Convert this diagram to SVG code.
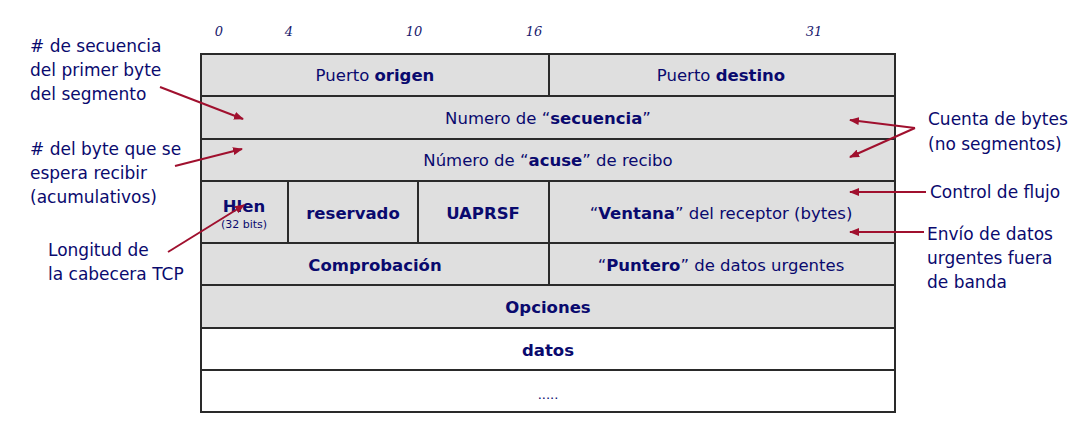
<svg xmlns="http://www.w3.org/2000/svg" width="1090" height="433" viewBox="0 0 1090 433">
<style>
.t{font-family:"DejaVu Sans",Verdana,sans-serif;font-size:16.5px;fill:#0a0a6e;text-anchor:middle}
.b{font-weight:bold}
.n{font-family:"DejaVu Sans",Verdana,sans-serif;font-size:17px;fill:#0a0a6e}
.bit{font-family:"DejaVu Serif",serif;font-style:italic;font-size:13px;fill:#1a1a6e;text-anchor:middle}
.g{fill:#dfdfdf;stroke:#2a2a2a;stroke-width:2}
.w{fill:#ffffff;stroke:#2a2a2a;stroke-width:2}
.a{stroke:#a0102e;stroke-width:2;fill:none}
</style>
<defs>
<marker id="ah" markerWidth="10" markerHeight="8" refX="9" refY="4" orient="auto" markerUnits="userSpaceOnUse">
<path d="M0,0 L10,4 L0,8 z" fill="#a0102e"/>
</marker>
</defs>
<g id="bits">
<text class="bit" x="219" y="36">0</text>
<text class="bit" x="289" y="36">4</text>
<text class="bit" x="414" y="36">10</text>
<text class="bit" x="534" y="36">16</text>
<text class="bit" x="814" y="36">31</text>
</g>
<g id="row-ports">
<rect class="g" x="201" y="54" width="348" height="42"/>
<rect class="g" x="549" y="54" width="346" height="42"/>
<text class="t" x="375" y="81">Puerto <tspan class="b">origen</tspan></text>
<text class="t" x="721" y="81">Puerto <tspan class="b">destino</tspan></text>
</g>
<g id="row-seq">
<rect class="g" x="201" y="96" width="694" height="43"/>
<text class="t" x="548" y="124">Numero de “<tspan class="b">secuencia</tspan>”</text>
</g>
<g id="row-ack">
<rect class="g" x="201" y="139" width="694" height="42"/>
<text class="t" x="548" y="166">Número de “<tspan class="b">acuse</tspan>” de recibo</text>
</g>
<g id="row-flags">
<rect class="g" x="201" y="181" width="87" height="62"/>
<rect class="g" x="288" y="181" width="130" height="62"/>
<rect class="g" x="418" y="181" width="131" height="62"/>
<rect class="g" x="549" y="181" width="346" height="62"/>
<text class="t b" x="244" y="212">Hlen</text>
<text class="t" x="244" y="228" style="font-size:11px">(32 bits)</text>
<text class="t b" x="353" y="219">reservado</text>
<text class="t b" x="483" y="219">UAPRSF</text>
<text class="t" x="721" y="219">“<tspan class="b">Ventana</tspan>” del receptor (bytes)</text>
</g>
<g id="row-check">
<rect class="g" x="201" y="243" width="348" height="42"/>
<rect class="g" x="549" y="243" width="346" height="42"/>
<text class="t b" x="375" y="271">Comprobación</text>
<text class="t" x="721" y="271">“<tspan class="b">Puntero</tspan>” de datos urgentes</text>
</g>
<g id="row-options">
<rect class="g" x="201" y="285" width="694" height="43"/>
<text class="t b" x="548" y="313">Opciones</text>
</g>
<g id="row-data">
<rect class="w" x="201" y="328" width="694" height="42"/>
<text class="t b" x="548" y="356">datos</text>
</g>
<g id="row-more">
<rect class="w" x="201" y="370" width="694" height="42"/>
<text class="t" x="548" y="399" style="font-size:13px">.....</text>
</g>
<g id="labels-left">
<text class="n" x="30" y="52">#  de secuencia</text>
<text class="n" x="30" y="76">del primer byte</text>
<text class="n" x="30" y="100">del segmento</text>
<text class="n" x="30" y="155">#  del byte que se</text>
<text class="n" x="30" y="179">espera recibir</text>
<text class="n" x="30" y="203">(acumulativos)</text>
<text class="n" x="48" y="256">Longitud de</text>
<text class="n" x="48" y="280">la cabecera TCP</text>
</g>
<g id="labels-right">
<text class="n" x="928" y="125">Cuenta de bytes</text>
<text class="n" x="928" y="150">(no segmentos)</text>
<text class="n" x="930" y="198">Control de flujo</text>
<text class="n" x="927" y="240">Envío de datos</text>
<text class="n" x="927" y="264">urgentes fuera</text>
<text class="n" x="927" y="288">de banda</text>
</g>
<g id="connectors">
<line class="a" x1="160" y1="87" x2="243" y2="119" marker-end="url(#ah)"/>
<line class="a" x1="175" y1="166" x2="242" y2="149" marker-end="url(#ah)"/>
<line class="a" x1="168" y1="252" x2="244" y2="205" marker-end="url(#ah)"/>
<line class="a" x1="915" y1="128" x2="850" y2="120" marker-end="url(#ah)"/>
<line class="a" x1="915" y1="128" x2="850" y2="157" marker-end="url(#ah)"/>
<line class="a" x1="926" y1="192" x2="850" y2="192" marker-end="url(#ah)"/>
<line class="a" x1="924" y1="232" x2="850" y2="232" marker-end="url(#ah)"/>
</g>
</svg>
